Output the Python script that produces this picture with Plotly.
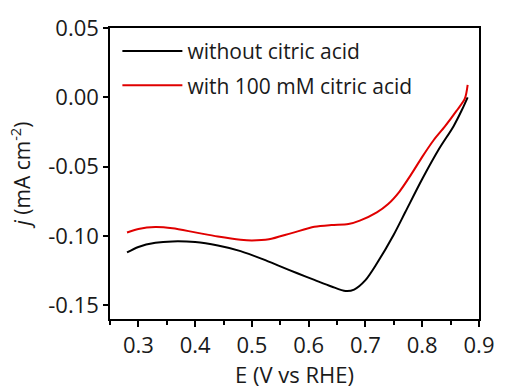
import plotly.graph_objects as go

# Data
E_black = [0.28, 0.30, 0.33, 0.36, 0.40, 0.44, 0.48, 0.52, 0.55, 0.58, 0.61, 0.64, 0.665, 0.68, 0.70, 0.72, 0.75, 0.77, 0.80, 0.83, 0.855, 0.87, 0.88]
j_black = [-0.112, -0.108, -0.105, -0.104, -0.1045, -0.107, -0.111, -0.117, -0.122, -0.127, -0.1318, -0.1365, -0.1398, -0.1388, -0.132, -0.120, -0.099, -0.083, -0.059, -0.037, -0.021, -0.009, 0.0]

E_red = [0.28, 0.30, 0.33, 0.36, 0.40, 0.44, 0.48, 0.50, 0.53, 0.57, 0.61, 0.64, 0.67, 0.69, 0.72, 0.74, 0.76, 0.78, 0.80, 0.82, 0.84, 0.86, 0.875, 0.88]
j_red = [-0.0976, -0.095, -0.0936, -0.0945, -0.0975, -0.1005, -0.1028, -0.1033, -0.1025, -0.098, -0.0935, -0.0922, -0.0915, -0.089, -0.083, -0.077, -0.068, -0.056, -0.043, -0.031, -0.021, -0.010, -0.001, 0.009]

labels = ["without citric acid", "with 100 mM citric acid"]
x_ticks = [0.3, 0.4, 0.5, 0.6, 0.7, 0.8, 0.9]
y_ticks = [0.05, 0.00, -0.05, -0.10, -0.15]

FONT = "Open Sans"
TXT = "#1a1a1a"

fig = go.Figure()
fig.add_trace(go.Scatter(x=E_black, y=j_black, mode="lines", name=labels[0],
                         line=dict(color="black", width=2, shape="spline", smoothing=0.8),
                         legendgroup="a"))
fig.add_trace(go.Scatter(x=E_red, y=j_red, mode="lines", name=labels[1],
                         line=dict(color="#e00000", width=2, shape="spline", smoothing=0.8),
                         legendgroup="b"))

fig.update_layout(
    width=506, height=392,
    margin=dict(l=110, r=16, t=21, b=60),
    paper_bgcolor="white", plot_bgcolor="white",
    font=dict(family=FONT, size=22, color=TXT),
    showlegend=True,
    legend=dict(x=0.02, y=0.99, xanchor="left", yanchor="top",
                bgcolor="rgba(0,0,0,0)", font=dict(size=21, color=TXT),
                tracegroupgap=4, itemwidth=60),
)
fig.update_xaxes(
    range=[0.25, 0.9], tickvals=x_ticks, ticktext=[f"{v:.1f}" for v in x_ticks],
    showline=True, linecolor="black", linewidth=1.5, mirror=True,
    ticks="outside", ticklen=6, tickwidth=1.5, tickcolor="black",
    minor=dict(dtick=0.05, tick0=0.25, ticks="outside", ticklen=4, tickwidth=1.5, tickcolor="black"),
    showgrid=False, zeroline=False,
    title=dict(text="E (V vs RHE)", font=dict(size=22), standoff=5),
)
fig.update_yaxes(
    range=[-0.16, 0.05], tickvals=y_ticks, ticktext=[f"{v:.2f}" for v in y_ticks],
    showline=True, linecolor="black", linewidth=1.5, mirror=True,
    ticks="outside", ticklen=5, tickwidth=1.5, tickcolor="black",
    showgrid=False, zeroline=False,
    title=dict(text="<i>j</i> (mA cm<sup>-2</sup>)", font=dict(size=21), standoff=12),
)

fig.write_html("out.html")
